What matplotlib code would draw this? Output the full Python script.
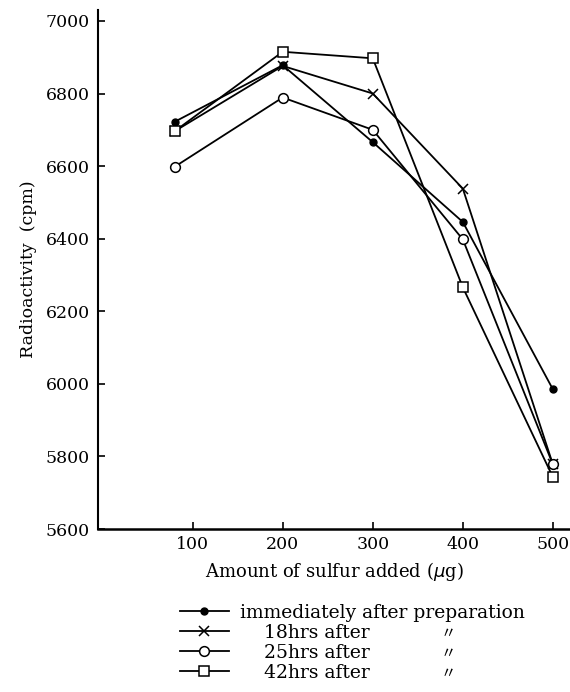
import matplotlib
matplotlib.use('Agg')
import matplotlib.pyplot as plt

# sulfur added (ug) and radioactivity (cpm)
sulfur = [80, 200, 300, 400, 500]
immediately = [6722, 6878, 6666, 6446, 5985]
hrs18 = [6696, 6876, 6800, 6538, 5778]
hrs25 = [6598, 6789, 6700, 6398, 5778]
hrs42 = [6696, 6915, 6897, 6266, 5743]

labels = ['immediately after preparation', '    18hrs after',
          '    25hrs after', '    42hrs after']

plt.rcParams['font.family'] = ['DejaVu Serif', 'Noto Sans CJK JP']

fig = plt.figure(figsize=(5.70, 6.92), dpi=100)
ax = fig.add_axes([0.172, 0.2355, 0.828, 0.75])

ln1, = ax.plot(sulfur, immediately, 'k-', marker='o', ms=5, lw=1.3)
ln2, = ax.plot(sulfur, hrs18, 'k-', marker='x', ms=7, mew=1.1, lw=1.3)
ln3, = ax.plot(sulfur, hrs25, 'k-', marker='o', ms=7, mfc='white', mew=1.1, lw=1.3)
ln4, = ax.plot(sulfur, hrs42, 'k-', marker='s', ms=7, mfc='white', mew=1.1, lw=1.3)

ax.set_xlim(-5, 519)
ax.set_ylim(5600, 7030)
ax.set_xticks([100, 200, 300, 400, 500])
ax.set_yticks(range(5600, 7001, 200))
ax.spines['top'].set_visible(False)
ax.spines['right'].set_visible(False)
ax.spines['left'].set_linewidth(1.5)
ax.spines['bottom'].set_linewidth(1.8)
ax.tick_params(axis='y', direction='in', length=5, width=1.2, labelsize=12.5, pad=6)
ax.tick_params(axis='x', direction='in', length=5, width=1.2, labelsize=12.5, pad=5)

ax.set_xlabel('Amount of sulfur added ($\\mu$g)', fontsize=13, labelpad=5)
ax.set_ylabel('Radioactivity  (cpm)', fontsize=12.5, labelpad=6)

fig.legend([ln1, ln2, ln3, ln4], labels, loc='upper left',
           bbox_to_anchor=(180 / 570, 1 - 604 / 692), frameon=False,
           fontsize=13.5, handlelength=2.6, handletextpad=0.6,
           labelspacing=0.1, borderpad=0, borderaxespad=0)

# ditto marks
for yy in [634, 654, 674]:
    fig.text(448 / 570, 1 - yy / 692, '〃', fontsize=11, ha='center', va='center')

fig.savefig('out.png', dpi=100)
